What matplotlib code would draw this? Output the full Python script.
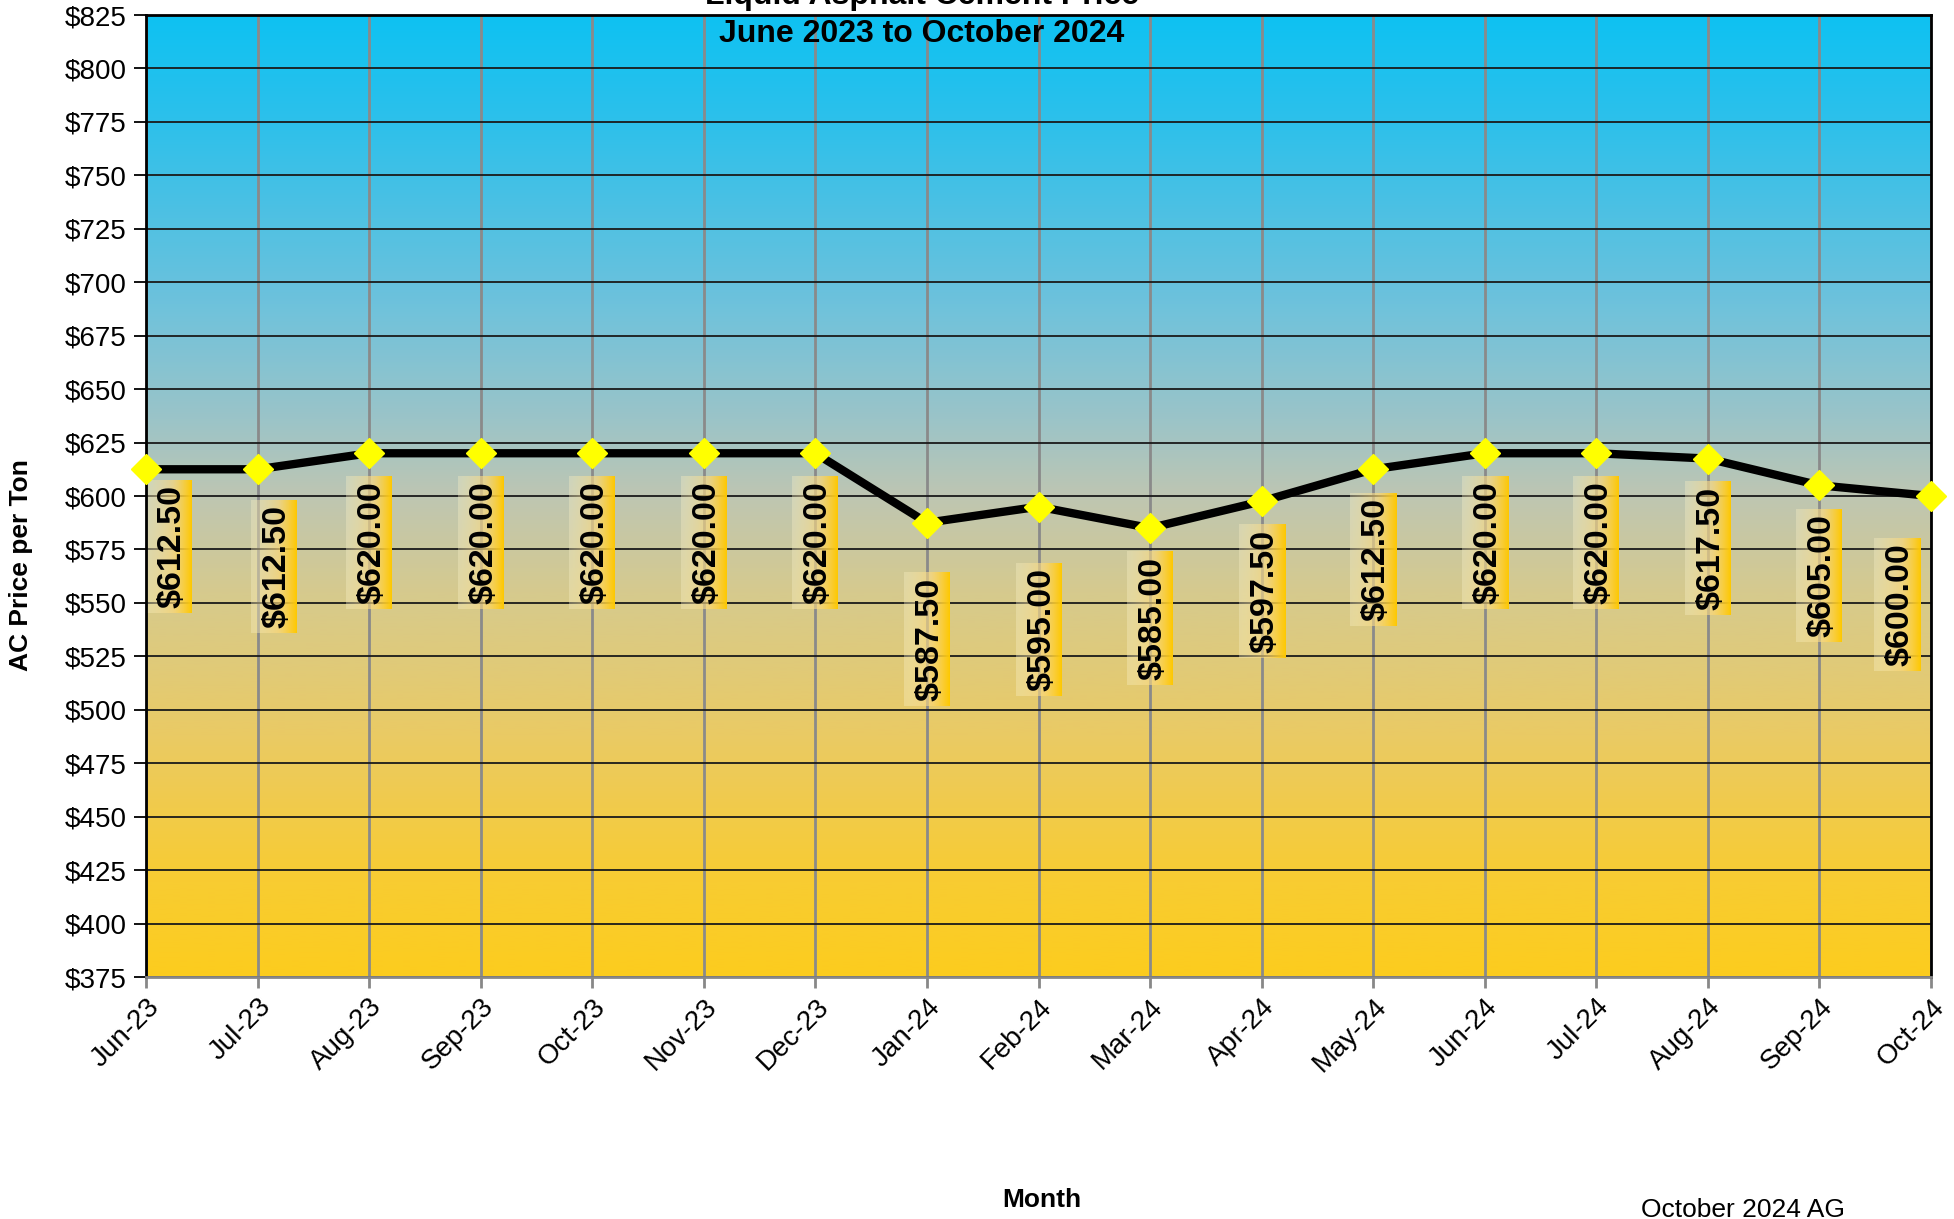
#! /usr/bin/env python3

import numpy as np
import matplotlib
matplotlib.use("Agg")
import matplotlib.pyplot as plt


# Liquid asphalt cement price, June 2023 to October 2024.
months = ["Jun-23", "Jul-23", "Aug-23", "Sep-23", "Oct-23", "Nov-23",
          "Dec-23", "Jan-24", "Feb-24", "Mar-24", "Apr-24", "May-24",
          "Jun-24", "Jul-24", "Aug-24", "Sep-24", "Oct-24"]
prices = [612.50, 612.50, 620.00, 620.00, 620.00, 620.00, 620.00, 587.50,
          595.00, 585.00, 597.50, 612.50, 620.00, 620.00, 617.50, 605.00,
          600.00]
y_ticks = list(range(375, 826, 25))

# label placement (pixels from the point: right, down to box top)
label_dx = [23, 16, 0, 0, 0, 0, 0, 0, 0, 0, 0, 0, 0, 0, 0, 0, -34]
label_dy = [9, 29, 21, 21, 21, 21, 21, 48, 54, 22, 22, 22, 21, 21, 21, 22, 40]

plt.rcParams['font.family'] = ['Liberation Sans', 'DejaVu Sans']

fig = plt.figure(figsize=(19.54, 12.19), dpi=100)
ax = fig.add_axes([146 / 1954, 1 - 977 / 1219, 1785 / 1954, 962 / 1219])

x = np.arange(len(months))
xlim = (x[0], x[-1])
ylim = (375, 825)

# Background gradient, cyan at top to gold at bottom
stops = np.array([0.0, 0.12, 0.3, 0.42, 0.5, 0.6, 0.75, 0.9, 1.0])
cols = np.array([[14, 194, 242], [48, 192, 234], [110, 194, 220],
                 [155, 196, 200], [190, 198, 178], [214, 202, 142],
                 [234, 202, 100], [248, 204, 50], [252, 204, 30]]) / 255
t = np.linspace(0, 1, 400)
grad = np.stack([np.interp(t, stops, cols[:, i]) for i in range(3)], axis=1)
ax.imshow(grad[:, None, :], extent=[xlim[0], xlim[1], ylim[0], ylim[1]],
          aspect='auto', origin='upper', zorder=-1, interpolation='bilinear')

ax.plot(x, prices, color='black', lw=6, zorder=3, solid_joinstyle='round')
ax.plot(x, prices, ls='none', marker='D', ms=15, mfc='#FFFF00',
        mec='#FFFF00', zorder=4, clip_on=False)

ax.set_xlim(*xlim)
ax.set_ylim(*ylim)
ax.set_xticks(x)
ax.set_xticklabels(months, rotation=45, ha='right', rotation_mode='anchor',
                   fontsize=20)
ax.set_yticks(y_ticks)
ax.set_yticklabels(["$%d" % v for v in y_ticks], fontsize=20)
ax.tick_params(axis='y', length=9, width=1.3, color='black', pad=5)
ax.tick_params(axis='x', length=8, width=2, color='#888888', pad=4)

ax.grid(axis='y', color='#1a1a1a', lw=1.3)
ax.grid(axis='x', color='#8a8a8a', lw=2)
ax.set_axisbelow(True)
for side in ['left', 'top', 'right']:
    ax.spines[side].set_color('black')
    ax.spines[side].set_linewidth(2)
ax.spines['bottom'].set_color('#888888')
ax.spines['bottom'].set_linewidth(2)

# Data labels
labels = []
for xi, p, dx, dy in zip(x, prices, label_dx, label_dy):
    txt = ax.annotate("$%.2f" % p, (xi, p), xytext=(dx + 3, -(dy + 7)),
                      textcoords='offset pixels', rotation=90,
                      ha='center', va='top', fontsize=24.5,
                      fontweight='bold', zorder=5, annotation_clip=False)
    labels.append(txt)

fig.canvas.draw()
inv = ax.transData.inverted()
box_grad = np.zeros((1, 100, 4))
tt = np.linspace(0, 1, 100)
box_grad[0, :, 0] = np.interp(tt, [0, 1], [250 / 255, 1.0])
box_grad[0, :, 1] = np.interp(tt, [0, 1], [242 / 255, 200 / 255])
box_grad[0, :, 2] = np.interp(tt, [0, 0.6, 1], [200 / 255, 120 / 255, 0.0])
box_grad[0, :, 3] = np.interp(tt, [0, 0.5, 1], [0.35, 0.6, 1.0])
for txt in labels:
    bb = txt.get_window_extent()
    cx = (bb.x0 + bb.x1) / 2 - 3
    x0, y0 = inv.transform((cx - 23, bb.y0 - 5))
    x1, y1 = inv.transform((cx + 23, bb.y1 + 5))
    ax.imshow(box_grad, extent=[x0, x1, y0, y1], aspect='auto', zorder=2,
              interpolation='bilinear')
ax.set_xlim(*xlim)
ax.set_ylim(*ylim)

# Titles and axis labels
fig.text(922 / 1954, 1 - 4 / 1219, "Liquid Asphalt Cement Price",
         ha='center', va='baseline', fontsize=23, fontweight='bold')
fig.text(922 / 1954, 1 - 42 / 1219, "June 2023 to October 2024",
         ha='center', va='baseline', fontsize=23, fontweight='bold')
fig.text(21 / 1954, 1 - 565 / 1219, "AC Price per Ton", rotation=90,
         ha='center', va='center', fontsize=19, fontweight='bold')
fig.text(1042 / 1954, 1 - 1200 / 1219, "Month", ha='center', va='center',
         fontsize=19, fontweight='bold')
fig.text(1845 / 1954, 1 - 1217 / 1219, "October 2024 AG", ha='right',
         va='baseline', fontsize=19)

fig.savefig("out.png", dpi=100)
